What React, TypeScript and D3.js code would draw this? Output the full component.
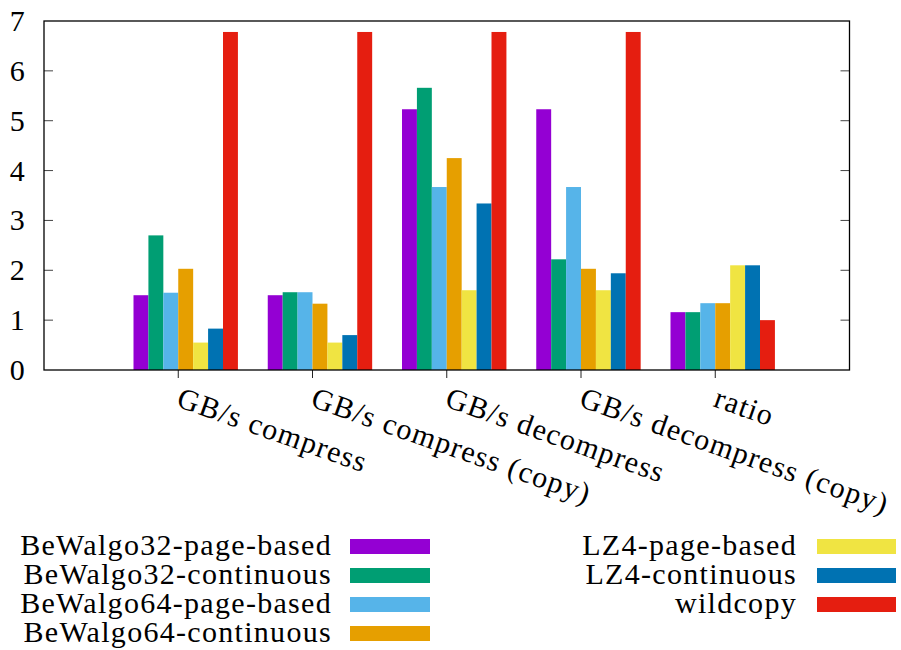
import React from 'react';
import { scaleLinear, range } from 'd3';

const categories = [
  'GB/s compress',
  'GB/s compress (copy)',
  'GB/s decompress',
  'GB/s decompress (copy)',
  'ratio',
];

const seriesNames = [
  'BeWalgo32-page-based',
  'BeWalgo32-continuous',
  'BeWalgo64-page-based',
  'BeWalgo64-continuous',
  'LZ4-page-based',
  'LZ4-continuous',
  'wildcopy',
];

const bw32Page = [1.5, 1.5, 5.23, 5.23, 1.16];
const bw32Cont = [2.7, 1.56, 5.66, 2.22, 1.16];
const bw64Page = [1.55, 1.56, 3.67, 3.67, 1.34];
const bw64Cont = [2.03, 1.33, 4.25, 2.03, 1.34];
const lz4Page = [0.55, 0.55, 1.6, 1.6, 2.1];
const lz4Cont = [0.83, 0.7, 3.34, 1.94, 2.1];
const wildcopy = [6.78, 6.78, 6.78, 6.78, 1.0];

const seriesValues = [bw32Page, bw32Cont, bw64Page, bw64Cont, lz4Page, lz4Cont, wildcopy];
const colors = ['#9400d3', '#009e73', '#56b4e9', '#e69f00', '#f0e442', '#0072b2', '#e51e10'];
const yTicks = [0, 1, 2, 3, 4, 5, 6, 7];

const W = 901;
const H = 650;
const left = 44;
const right = 849.5;
const top = 21;
const bottom = 370;
const textStyle = {
  fontFamily: '"Liberation Serif", Tinos, "Times New Roman", "DejaVu Serif", serif',
  fontSize: 30,
  letterSpacing: 1.3,
};

const App = () => {
  const x = scaleLinear().domain([-1, categories.length]).range([left, right]);
  const y = scaleLinear().domain([0, 7]).range([bottom, top]);
  const step = x(1) - x(0);
  const bw = step / 9;

  // legend: first 4 on the left column, rest on the right
  const legendRow = (i: number) => (i < 4 ? i : i - 4);
  const legendTextX = (i: number) => (i < 4 ? 332 : 797);
  const legendBoxX = (i: number) => (i < 4 ? 350 : 817);
  const legendBoxW = (i: number) => (i < 4 ? 80 : 79);

  return (
    <div style={{ position: 'absolute', left: 0, top: 0 }}>
      <svg width={W} height={H} style={{ display: 'block', background: '#fff' }}>
        {seriesValues.map((vals, s) =>
          vals.map((v, c) => (
            <rect
              key={`${s}-${c}`}
              x={x(c) + (s - 3) * bw}
              y={y(v)}
              width={bw}
              height={y(0) - y(v)}
              fill={colors[s]}
            />
          ))
        )}

        {/* y ticks, left and mirrored on the right */}
        {yTicks.map((t) => (
          <g key={t}>
            {t > 0 && t < 7 && (
              <>
                <line x1={left} x2={left + 9} y1={y(t)} y2={y(t)} stroke="#444" strokeWidth={1} />
                <line x1={right} x2={right - 9} y1={y(t)} y2={y(t)} stroke="#444" strokeWidth={1} />
              </>
            )}
            <text x={26} y={y(t) + 10} textAnchor="end" style={textStyle}>
              {t}
            </text>
          </g>
        ))}

        {/* x ticks and rotated labels */}
        {categories.map((c, i) => (
          <g key={c}>
            <line x1={x(i)} x2={x(i)} y1={bottom} y2={bottom + 8} stroke="#222" strokeWidth={1} />
            <text transform={`translate(${x(i) - 3},${406}) rotate(19.5)`} style={textStyle}>
              {c}
            </text>
          </g>
        ))}

        <rect
          x={left}
          y={top}
          width={right - left}
          height={bottom - top}
          fill="none"
          stroke="#000"
          strokeWidth={1.3}
        />

        {/* legend */}
        {range(seriesNames.length).map((i) => {
          const cy = 546.5 + legendRow(i) * 29;
          return (
            <g key={seriesNames[i]}>
              <text x={legendTextX(i)} y={cy + 8.5} textAnchor="end" style={textStyle}>
                {seriesNames[i]}
              </text>
              <rect x={legendBoxX(i)} y={cy - 7.5} width={legendBoxW(i)} height={15} fill={colors[i]} />
            </g>
          );
        })}
      </svg>
    </div>
  );
};

export default App;
